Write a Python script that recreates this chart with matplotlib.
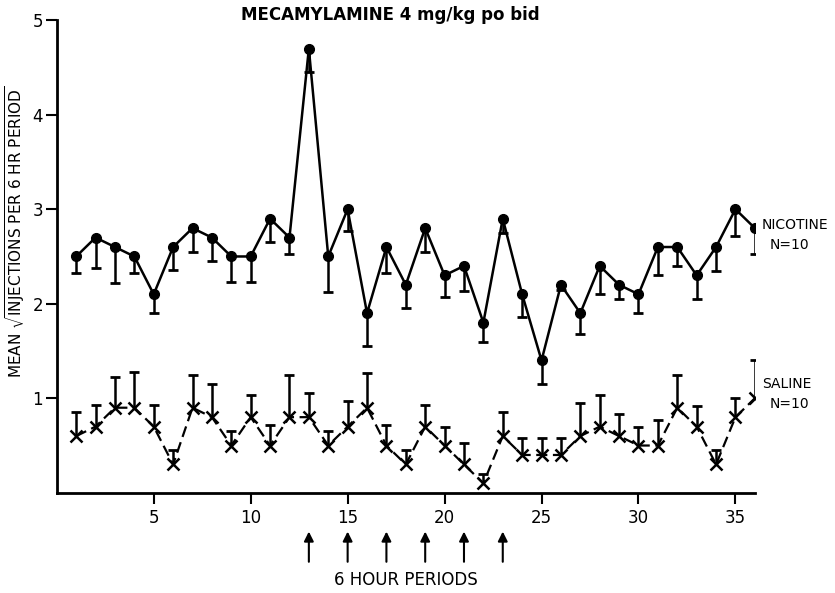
import matplotlib
matplotlib.use('Agg')
import matplotlib.pyplot as plt

periods = list(range(1, 37))

nicotine = [2.5, 2.7, 2.6, 2.5, 2.1, 2.6, 2.8, 2.7, 2.5, 2.5, 2.9, 2.7,
            4.7, 2.5, 3.0, 1.9, 2.6, 2.2, 2.8, 2.3, 2.4, 1.8, 2.9, 2.1,
            1.4, 2.2, 1.9, 2.4, 2.2, 2.1, 2.6, 2.6, 2.3, 2.6, 3.0, 2.8]
# lower end of the (one-sided) error bars
nicotine_low = [2.32, 2.38, 2.22, 2.32, 1.9, 2.36, 2.55, 2.45, 2.23, 2.23, 2.65, 2.53,
                4.45, 2.12, 2.77, 1.55, 2.33, 1.95, 2.55, 2.07, 2.13, 1.6, 2.75, 1.86,
                1.15, 2.15, 1.68, 2.1, 2.05, 1.9, 2.3, 2.4, 2.05, 2.35, 2.72, 2.53]

saline = [0.6, 0.7, 0.9, 0.9, 0.7, 0.3, 0.9, 0.8, 0.5, 0.8, 0.5, 0.8,
          0.8, 0.5, 0.7, 0.9, 0.5, 0.3, 0.7, 0.5, 0.3, 0.1, 0.6, 0.4,
          0.4, 0.4, 0.6, 0.7, 0.6, 0.5, 0.5, 0.9, 0.7, 0.3, 0.8, 1.0]
# upper end of the (one-sided) error bars
saline_high = [0.85, 0.93, 1.23, 1.28, 0.93, 0.45, 1.25, 1.15, 0.65, 1.03, 0.72, 1.25,
               1.06, 0.65, 0.97, 1.27, 0.72, 0.45, 0.93, 0.7, 0.53, 0.2, 0.85, 0.58,
               0.58, 0.58, 0.95, 1.03, 0.83, 0.7, 0.77, 1.25, 0.92, 0.45, 1.0, 1.4]

arrow_periods = [13, 15, 17, 19, 21, 23]

plt.rcParams['font.family'] = 'DejaVu Sans'
fig = plt.figure(figsize=(8.35, 5.93), dpi=100)
ax = fig.add_axes([0.068, 0.169, 0.836, 0.797])

# error bars
ax.vlines(periods, nicotine_low, nicotine, color='black', lw=1.8)
ax.plot(periods, nicotine_low, ls='none', marker='_', ms=7, mew=2, color='black')
ax.vlines(periods, saline, saline_high, color='black', lw=1.8)
ax.plot(periods, saline_high, ls='none', marker='_', ms=7, mew=2, color='black')

# series
ax.plot(periods, nicotine, color='black', lw=1.8, marker='o', ms=7)
ax.plot(periods, saline, color='black', lw=1.6, ls=(0, (5, 2.5)),
        marker='x', ms=8, mew=1.8)

ax.set_xlim(0, 36)
ax.set_ylim(0, 5)
ax.set_xticks([5, 10, 15, 20, 25, 30, 35])
ax.set_yticks([1, 2, 3, 4, 5])
for s in ['top', 'right']:
    ax.spines[s].set_visible(False)
for s in ['left', 'bottom']:
    ax.spines[s].set_linewidth(2)
ax.tick_params(length=8, width=1.5, labelsize=12)
ax.tick_params(axis='y', pad=2)

# arrows under the axis
for p in arrow_periods:
    ax.annotate('', xy=(p, -0.082), xycoords=('data', 'axes fraction'),
                xytext=(p, -0.146), textcoords=('data', 'axes fraction'),
                arrowprops=dict(arrowstyle='-|>', color='black', lw=1.5,
                                mutation_scale=14, shrinkA=0, shrinkB=0))

ax.text(0.5, -0.184, '6 HOUR PERIODS', transform=ax.transAxes,
        ha='center', va='center', fontsize=12)
fig.text(0.467, 0.974, 'MECAMYLAMINE 4 mg/kg po bid', ha='center', va='center',
         fontsize=12, fontweight='bold')
ax.set_ylabel(r'MEAN $\sqrt{\mathrm{INJECTIONS\ PER\ 6\ HR\ PERIOD}}$', fontsize=11)
ax.yaxis.set_label_coords(-0.043, 0.552)

ax.text(36.35, 2.83, 'NICOTINE', fontsize=10, ha='left', va='center', clip_on=False)
ax.text(36.75, 2.62, 'N=10', fontsize=10, ha='left', va='center', clip_on=False)
ax.text(36.35, 1.15, 'SALINE', fontsize=10, ha='left', va='center', clip_on=False)
ax.text(36.75, 0.94, 'N=10', fontsize=10, ha='left', va='center', clip_on=False)

fig.savefig('out.png', dpi=100)
